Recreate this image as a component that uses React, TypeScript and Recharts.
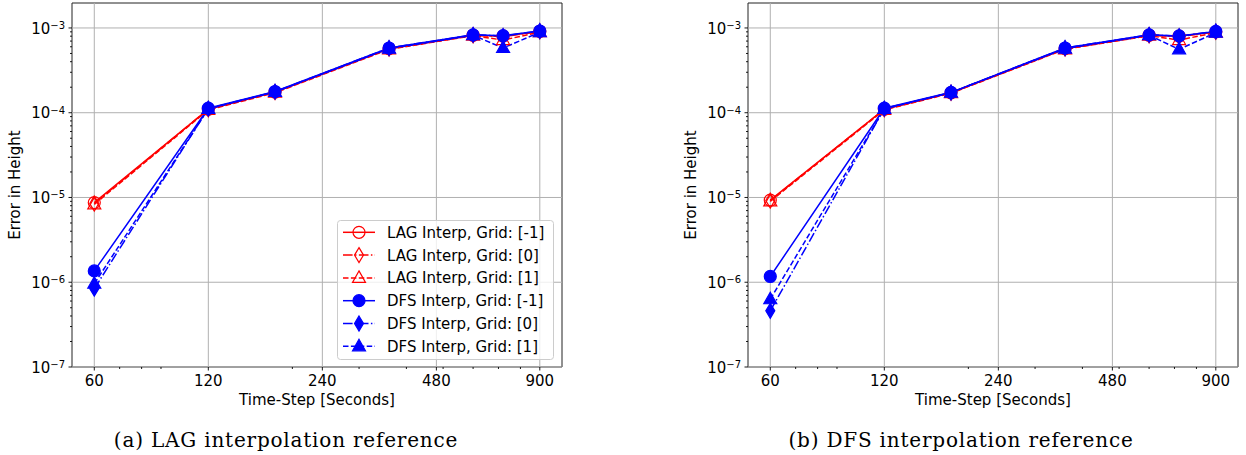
import React from "react";
import { LineChart, Line, XAxis, YAxis, ReferenceLine, ReferenceArea, Legend } from "recharts";

// x values (time step, seconds)
const timeSteps = [60, 120, 180, 360, 600, 720, 900];

const xTicks = [60, 120, 240, 480, 900];
const xMinorTicks = [70, 80, 90, 200, 300, 400, 500, 600, 700, 800];
const yTickExponents = [-7, -6, -5, -4, -3];
const yMinorMantissas = [2, 3, 4, 5, 6, 7, 8, 9];

const xDomain = [52.4, 1030];
const yDomain = [1e-7, 1.97e-3];

// (a) LAG interpolation reference
const lagRefLagM1 = [8.7e-6, 1.1e-4, 1.75e-4, 5.7e-4, 8.2e-4, 8.0e-4, 9.1e-4];
const lagRefLag0 = [8.5e-6, 1.1e-4, 1.75e-4, 5.7e-4, 8.2e-4, 7.9e-4, 9.1e-4];
const lagRefLag1 = [8.3e-6, 1.08e-4, 1.72e-4, 5.6e-4, 8.1e-4, 7.2e-4, 8.9e-4];
const lagRefDfsM1 = [1.36e-6, 1.13e-4, 1.78e-4, 5.8e-4, 8.3e-4, 8.1e-4, 9.2e-4];
const lagRefDfs0 = [8.4e-7, 1.12e-4, 1.77e-4, 5.8e-4, 8.3e-4, 8.05e-4, 9.2e-4];
const lagRefDfs1 = [9.6e-7, 1.11e-4, 1.76e-4, 5.7e-4, 8.2e-4, 5.8e-4, 8.9e-4];

// (b) DFS interpolation reference
const dfsRefLagM1 = [9.3e-6, 1.1e-4, 1.72e-4, 5.7e-4, 8.2e-4, 8.0e-4, 9.0e-4];
const dfsRefLag0 = [9.2e-6, 1.1e-4, 1.72e-4, 5.7e-4, 8.2e-4, 7.9e-4, 9.0e-4];
const dfsRefLag1 = [9.0e-6, 1.08e-4, 1.7e-4, 5.6e-4, 8.1e-4, 7.2e-4, 8.8e-4];
const dfsRefDfsM1 = [1.17e-6, 1.13e-4, 1.74e-4, 5.8e-4, 8.3e-4, 8.05e-4, 9.1e-4];
const dfsRefDfs0 = [4.6e-7, 1.12e-4, 1.73e-4, 5.8e-4, 8.3e-4, 8.0e-4, 9.1e-4];
const dfsRefDfs1 = [6.3e-7, 1.11e-4, 1.73e-4, 5.7e-4, 8.2e-4, 5.6e-4, 8.8e-4];

const seriesNames = [
  "LAG Interp, Grid: [-1]",
  "LAG Interp, Grid: [0]",
  "LAG Interp, Grid: [1]",
  "DFS Interp, Grid: [-1]",
  "DFS Interp, Grid: [0]",
  "DFS Interp, Grid: [1]",
];

const RED = "#ff0000";
const BLUE = "#0000ff";
const seriesColors = [RED, RED, RED, BLUE, BLUE, BLUE];
const seriesDash = [undefined, "9.6 2.4 1.5 2.4", "5.5 2.4", undefined, "9.6 2.4 1.5 2.4", "5.5 2.4"];
const seriesMarkers = ["circle", "diamond", "triangle", "circle", "diamond", "triangle"];
const seriesFilled = [false, false, false, true, true, true];

const FONT = "'DejaVu Sans', sans-serif";

const yTicks = yTickExponents.map((e) => 10 ** e);
const yMinorTicks = yTickExponents
  .flatMap((e) => yMinorMantissas.map((m) => m * 10 ** e))
  .filter((v) => v < yDomain[1]);
const allXTicks = [...xTicks, ...xMinorTicks].sort((a, b) => a - b);
const allYTicks = [...yTicks, ...yMinorTicks].sort((a, b) => a - b);

function Marker({ shape, cx, cy, color, filled }: any) {
  const fill = filled ? color : "none";
  if (cx == null || cy == null) return null;
  if (shape === "circle") {
    return <circle cx={cx} cy={cy} r={6} fill={fill} stroke={color} strokeWidth={1.2} />;
  }
  if (shape === "diamond") {
    const pts = `${cx},${cy - 7.5} ${cx + 4.5},${cy} ${cx},${cy + 7.5} ${cx - 4.5},${cy}`;
    return <polygon points={pts} fill={fill} stroke={color} strokeWidth={1.2} />;
  }
  const pts = `${cx},${cy - 7} ${cx + 6.5},${cy + 4.5} ${cx - 6.5},${cy + 4.5}`;
  return <polygon points={pts} fill={fill} stroke={color} strokeWidth={1.2} />;
}

function XTick(props: any) {
  const { x, y, payload } = props;
  const v = payload.value;
  const major = xTicks.includes(v);
  return (
    <g>
      <line x1={x} x2={x} y1={y} y2={y + (major ? 3.5 : 2)} stroke="#000" strokeWidth={0.9} />
      {major && (
        <text x={x} y={y + 19.2} textAnchor="middle" fontSize={15} fontFamily={FONT} fill="#000">
          {v}
        </text>
      )}
    </g>
  );
}

function YTick(props: any) {
  const { x, y, payload } = props;
  const v = payload.value;
  const idx = yTicks.findIndex((t) => Math.abs(t - v) / t < 1e-9);
  const major = idx >= 0;
  return (
    <g>
      <line x1={x} x2={x - (major ? 3.5 : 2)} y1={y} y2={y} stroke="#000" strokeWidth={0.9} />
      {major && (
        <text x={x - 7} y={y + 5.7} textAnchor="end" fontSize={15} fontFamily={FONT} fill="#000">
          10
          <tspan dy={-4.7} fontSize={10}>
            {"\u2212" + Math.abs(yTickExponents[idx])}
          </tspan>
        </text>
      )}
    </g>
  );
}

function LegendBox() {
  return (
    <svg width={217} height={140} style={{ display: "block" }}>
      <rect x={0.5} y={0.5} width={216} height={139} rx={3} fill="rgba(255,255,255,0.8)" stroke="#cccccc" />
      {seriesNames.map((name, i) => {
        const y = 12.3 + i * 22.8;
        return (
          <g key={name}>
            <line
              x1={6}
              x2={38}
              y1={y}
              y2={y}
              stroke={seriesColors[i]}
              strokeWidth={1.5}
              strokeDasharray={seriesDash[i]}
            />
            <Marker shape={seriesMarkers[i]} cx={22} cy={y} color={seriesColors[i]} filled={seriesFilled[i]} />
            <text x={50} y={y + 5.4} fontSize={15} fontFamily={FONT} fill="#000">
              {name}
            </text>
          </g>
        );
      })}
    </svg>
  );
}

function Panel({ values, showLegend }: { values: number[][]; showLegend: boolean }) {
  const rows = timeSteps.map((t, i) => {
    const r: any = { t };
    values.forEach((s, k) => {
      r[`s${k}`] = s[i];
    });
    return r;
  });
  return (
    <LineChart width={600} height={420} data={rows} margin={{ top: 3, right: 38, bottom: 23, left: 12 }}>
      <XAxis
        dataKey="t"
        type="number"
        scale="log"
        domain={xDomain}
        allowDataOverflow
        ticks={allXTicks}
        interval={0}
        tick={<XTick />}
        tickLine={false}
        axisLine={false}
        tickSize={0}
        tickMargin={0}
        height={30}
      />
      <YAxis
        type="number"
        scale="log"
        domain={yDomain}
        allowDataOverflow
        ticks={allYTicks}
        interval={0}
        tick={<YTick />}
        tickLine={false}
        axisLine={false}
        tickSize={0}
        tickMargin={0}
        width={60}
      />
      {xTicks.map((v) => (
        <ReferenceLine key={`gx${v}`} x={v} stroke="#b0b0b0" strokeWidth={1} />
      ))}
      {yTicks.map((v) => (
        <ReferenceLine key={`gy${v}`} y={v} stroke="#b0b0b0" strokeWidth={1} />
      ))}
      {seriesNames.map((name, k) => (
        <Line
          key={name}
          name={name}
          dataKey={`s${k}`}
          stroke={seriesColors[k]}
          strokeWidth={1.5}
          strokeDasharray={seriesDash[k]}
          isAnimationActive={false}
          activeDot={false}
          dot={(p: any) => (
            <Marker
              key={`m${k}-${p.index}`}
              shape={seriesMarkers[k]}
              cx={p.cx}
              cy={p.cy}
              color={seriesColors[k]}
              filled={seriesFilled[k]}
            />
          )}
        />
      ))}
      <ReferenceArea
        x1={xDomain[0]}
        x2={xDomain[1]}
        y1={yDomain[0]}
        y2={yDomain[1]}
        fill="none"
        fillOpacity={0}
        stroke="#222"
        strokeWidth={1}
      />
      {showLegend && (
        <Legend
          layout="vertical"
          verticalAlign="middle"
          align="center"
          wrapperStyle={{ left: 337, top: 220, width: 217, height: 140 }}
          content={() => <LegendBox />}
        />
      )}
    </LineChart>
  );
}

const labelStyle: React.CSSProperties = {
  position: "absolute",
  fontFamily: FONT,
  fontSize: 15,
  color: "#000",
  whiteSpace: "nowrap",
  lineHeight: 1,
};

const captionStyle: React.CSSProperties = {
  position: "absolute",
  fontFamily: "'DejaVu Serif', serif",
  fontSize: 20,
  letterSpacing: 0.8,
  color: "#000",
  whiteSpace: "nowrap",
  lineHeight: 1,
  transform: "translateX(-50%)",
};

export default function App() {
  const panelOffset = 676;
  return (
    <div style={{ position: "absolute", left: 0, top: 0, width: 1246, height: 455, background: "#fff", overflow: "hidden" }}>
      <div style={{ position: "absolute", left: 0, top: 0 }}>
        <Panel values={[lagRefLagM1, lagRefLag0, lagRefLag1, lagRefDfsM1, lagRefDfs0, lagRefDfs1]} showLegend />
      </div>
      <div style={{ position: "absolute", left: panelOffset, top: 0 }}>
        <Panel values={[dfsRefLagM1, dfsRefLag0, dfsRefLag1, dfsRefDfsM1, dfsRefDfs0, dfsRefDfs1]} showLegend={false} />
      </div>

      {[0, panelOffset].map((dx) => (
        <React.Fragment key={dx}>
          <div style={{ ...labelStyle, left: 15 + dx, top: 185, transform: "translate(-50%, -50%) rotate(-90deg)" }}>
            Error in Height
          </div>
          <div style={{ ...labelStyle, left: 317 + dx, top: 393, transform: "translateX(-50%)" }}>
            Time-Step [Seconds]
          </div>
        </React.Fragment>
      ))}
      <div style={{ ...captionStyle, left: 286, top: 430 }}>(a) LAG interpolation reference</div>
      <div style={{ ...captionStyle, left: 961, top: 430 }}>(b) DFS interpolation reference</div>
    </div>
  );
}
